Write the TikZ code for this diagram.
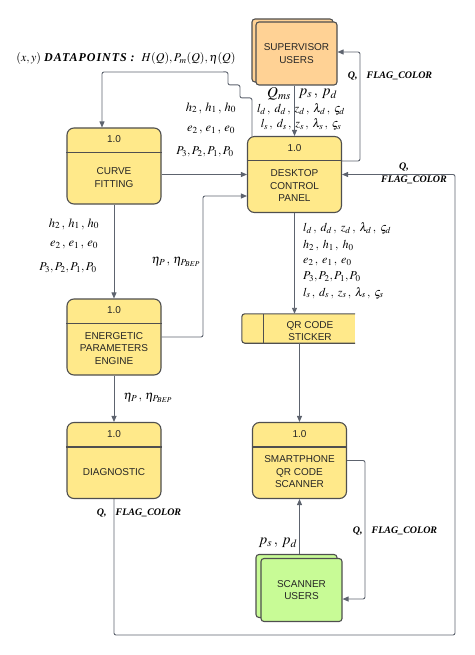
\documentclass[tikz,border=0pt]{standalone}
\usepackage{mathptmx}
\usepackage[no-math]{fontspec}
\setmainfont{Liberation Serif}
\newfontfamily\boxfont{Liberation Sans}
\usetikzlibrary{arrows.meta,calc}
\definecolor{yel}{HTML}{FFE98A}
\definecolor{org}{HTML}{FFD295}
\definecolor{grn}{HTML}{C8FB96}
\definecolor{bord}{HTML}{4F4F4F}
\definecolor{wire}{HTML}{5D636E}
\tikzset{
  proc/.style={draw=bord, line width=1.1pt, fill=yel, rounded corners=7pt, minimum width=94pt, minimum height=76pt, inner sep=0pt},
  ent/.style={draw=bord, line width=1.1pt, rounded corners=3pt, minimum width=81pt, minimum height=63pt, inner sep=0pt},
  divl/.style={draw=bord, line width=1.1pt},
  btxt/.style={font=\boxfont\fontsize{10}{12.5}\selectfont, align=center, text=black!85},
  arr/.style={draw=wire, line width=0.9pt, rounded corners=2pt, -{Triangle[length=6pt,width=5pt]}},
  mlab/.style={font=\fontsize{12.5}{14}\selectfont, inner sep=0pt},
  slab/.style={font=\fontsize{12}{13}\selectfont, inner sep=0pt},
  plab/.style={font=\fontsize{12}{14}\selectfont, inner sep=0pt},
  elab/.style={font=\fontsize{12.5}{14}\selectfont, inner sep=0pt},
  flab/.style={font=\fontsize{10}{11}\selectfont\bfseries\itshape, inner sep=0pt},
}
\newcommand{\FC}{\textit{\textbf{Q,}}\hspace{9pt}\textit{\textbf{FLAG\_COLOR}}}
\newcommand{\cs}{\,,\:}
\newcommand{\ct}{\,,\;}
\begin{document}
\begin{tikzpicture}[x=1pt,y=-1pt]
\useasboundingbox (0,0) rectangle (474,655);
% ---------- entities
\node[ent, fill=org] (supb) at (292.5,50.5) {};
\node[ent, fill=org] (sup) at (296.5,53.5) {};
\node[btxt] (supt) at (sup.center) {SUPERVISOR\\USERS};
\node[ent, fill=grn] (scnb) at (296.5,586) {};
\node[ent, fill=grn] (scn) at (301.5,590) {};
\node[btxt] (scnt) at (scn.center) {SCANNER\\USERS};
% ---------- processes
\node[proc] (cf) at (114,166) {};
\node[proc] (dcp) at (294.5,174.5) {};
\node[proc] (epe) at (114,337) {};
\node[proc] (dia) at (114,460.5) {};
\node[proc] (sp) at (299.5,460.5) {};
\foreach \n/\t in {cf/{CURVE\\FITTING}, dcp/{DESKTOP\\CONTROL\\PANEL}, epe/{ENERGETIC\\PARAMETERS\\ENGINE}, dia/{DIAGNOSTIC}, sp/{SMARTPHONE\\QR CODE\\SCANNER}}{
  \draw[divl] ([yshift=-25pt]\n.north west) -- ([yshift=-25pt]\n.north east);
  \node[btxt] (\n-num) at ([yshift=-12pt]\n.north) {1.0};
  \node[btxt] (\n-txt) at ([yshift=-50pt]\n.north) {\t};
}
% ---------- QR sticker
\node[minimum width=113pt, minimum height=29pt, inner sep=0pt, fill=yel] (qr) at (298.5,328.5) {};
\draw[divl, rounded corners=3pt] (qr.north east) -- (qr.north west) -- (qr.south west) -- (qr.south east);
\draw[divl] ([xshift=22pt]qr.north west) -- ([xshift=22pt]qr.south west);
\node[btxt] (qrt) at (310,331) {QR CODE\\STICKER};
% ---------- connectors
\draw[arr] ([xshift=5pt]dcp.north west) -- ++(0,-38) -- ++(-12,0) -- ++(0,-13) -- ++(-12,0) -- ++(0,-13) -- (102,72) -- ([xshift=-12pt]cf.north);
\draw[arr] (sup.south -| dcp.north) -- (dcp.north);
\draw[arr] ([yshift=-25pt]dcp.north east) -- (360,161) -- (360,52) -- (sup.east |- 0,52);
\draw[arr] (cf.east |- dcp.west) -- (dcp.west);
\draw[arr] (epe.east) -- (203,337) -- (203,196) -- (dcp.west |- 0,196);
\draw[arr] (cf.south) -- (epe.north);
\draw[arr] (epe.south) -- (dia.north);
\draw[arr] (dia.south) -- (114,635) -- (455,635) -- (455,174.5) -- (dcp.east);
\draw[arr] (dcp.south) -- (dcp.south |- qr.north);
\draw[arr] (sp.north |- qr.south) -- (sp.north);
\draw[arr] (sp.east) -- (365,460.5) -- (365,599) -- (scn.east |- 0,599);
\draw[arr] (sp.south |- scnb.north) -- (sp.south);
% ---------- labels
\node[font=\fontsize{12}{13}\selectfont, inner sep=0pt] (dpl) at (126,59) {$(x,y)$ {\addfontfeature{LetterSpace=8}\textbf{\textit{DATAPOINTS :}}}\ \ $H(Q), P_m(Q), \eta(Q)$};
\node[mlab, font=\fontsize{15}{16}\selectfont] (qms) at (279,94) {$Q_{ms}$};
\node[mlab, font=\fontsize{15}{16}\selectfont] (psd1) at (318,94) {$p_s\cs p_d$};
\node[slab] (ld1) at (301,109.5) {$l_d\ct d_d\ct z_d\ct \lambda_d\ct \varsigma_d$};
\node[slab] (ls1) at (301,124.5) {$l_s\ct d_s\ct z_s\ct \lambda_s\ct \varsigma_s$};
\node[mlab] (h1) at (211,108) {$h_2\cs h_1\cs h_0$};
\node[mlab] (e1) at (211,130) {$e_2\cs e_1\cs e_0$};
\node[plab] (p1) at (205,152) {$P_3, P_2, P_1, P_0$};
\node[mlab] (h2) at (74,224) {$h_2\cs h_1\cs h_0$};
\node[mlab] (e2) at (74,245) {$e_2\cs e_1\cs e_0$};
\node[plab] (p2) at (68,268) {$P_3, P_2, P_1, P_0$};
\node[elab] (eta1) at (176,262) {$\eta_P\cs \eta_{P_{BEP}}$};
\node[elab] (eta2) at (148,398) {$\eta_P\cs \eta_{P_{BEP}}$};
\node[slab, anchor=west] (ld2) at (303,228) {$l_d\ct d_d\ct z_d\ct \lambda_d\ct \varsigma_d$};
\node[slab, anchor=west] (h3) at (303,246) {$h_2\ct h_1\ct h_0$};
\node[slab, anchor=west] (e3) at (303,262) {$e_2\ct e_1\ct e_0$};
\node[plab, anchor=west] (p3) at (303,277) {$P_3, P_2, P_1, P_0$};
\node[slab, anchor=west] (ls2) at (303,293) {$l_s\ct d_s\ct z_s\ct \lambda_s\ct \varsigma_s$};
\node[flab] (fc1) at (390,76) {\FC};
\node[flab] (fc2q) at (404,167) {\textit{\textbf{Q,}}};
\node[flab] (fc2) at (414,180) {\textit{\textbf{FLAG\_COLOR}}};
\node[flab] (fc3) at (139,513) {\FC};
\node[flab] (fc4) at (395,531) {\FC};
\node[mlab, font=\fontsize{15}{16}\selectfont] (psd2) at (278,543) {$p_s\cs p_d$};
\end{tikzpicture}
\end{document}
